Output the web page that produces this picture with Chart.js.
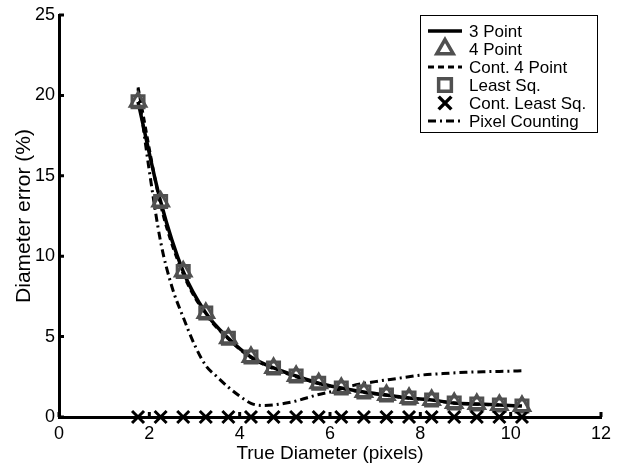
<!DOCTYPE html>
<html>
<head>
<meta charset="utf-8">
<script src="https://cdn.jsdelivr.net/npm/chart.js@4/dist/chart.umd.min.js"></script>
<style>
  body { margin: 0; background: #fff; }
</style>
</head>
<body>
<canvas id="myChart" width="626" height="465"></canvas>
<script>
// sample positions (true diameter, pixels)
var diam = [1.75, 2.25, 2.75, 3.25, 3.75, 4.25, 4.75, 5.25, 5.75, 6.25, 6.75, 7.25, 7.75, 8.25, 8.75, 9.25, 9.75, 10.25];
var threePt = [19.6, 13.4, 9.05, 6.47, 4.9, 3.73, 3.05, 2.55, 2.1, 1.8, 1.55, 1.37, 1.18, 1.06, 0.87, 0.81, 0.75, 0.68];
var fourPt = [19.6, 13.4, 9.05, 6.47, 4.9, 3.73, 3.05, 2.55, 2.1, 1.8, 1.55, 1.37, 1.18, 1.06, 0.87, 0.81, 0.75, 0.68];
var contFourPt = [20.5, 13.2, 8.9, 6.4, 4.85, 3.7, 3.0, 2.5, 2.08, 1.78, 1.53, 1.35, 1.17, 1.05, 0.86, 0.8, 0.74, 0.67];
var leastSq = [19.6, 13.4, 9.05, 6.47, 4.9, 3.73, 3.05, 2.55, 2.1, 1.8, 1.55, 1.37, 1.18, 1.06, 0.87, 0.81, 0.75, 0.68];
var contLeastSq = [0, 0, 0, 0, 0, 0, 0, 0, 0, 0, 0, 0, 0, 0, 0, 0, 0, 0];

var pixDiam = [1.75, 2, 2.25, 2.5, 2.75, 3, 3.25, 3.5, 3.75, 4, 4.25, 4.5, 4.75, 5, 5.25, 5.5, 5.75, 6, 6.5, 7, 7.5, 8, 8.5, 9, 9.5, 10, 10.25];
var pixCount = [20.4, 15.3, 10.9, 8.1, 6.2, 4.5, 3.2, 2.5, 1.85, 1.3, 0.85, 0.72, 0.75, 0.85, 1.0, 1.2, 1.4, 1.55, 1.95, 2.2, 2.4, 2.6, 2.7, 2.78, 2.82, 2.85, 2.87];

var xTicks = [0, 2, 4, 6, 8, 10, 12];
var yTicks = [0, 5, 10, 15, 20, 25];

var FONT = "'Liberation Sans', Arial, sans-serif";
var GRAY = '#505050';

function pts(xs, ys) {
    return xs.map(function (x, i) { return { x: x, y: ys[i] }; });
}

// inward tick marks, like the original figure
var inwardTicks = {
    id: 'inwardTicks',
    afterDraw: function (chart) {
        var ctx = chart.ctx, a = chart.chartArea;
        var xs = chart.scales.x, ys = chart.scales.y;
        ctx.save();
        ctx.strokeStyle = '#000';
        ctx.lineWidth = 3;
        ctx.beginPath();
        xTicks.forEach(function (v) {
            var px = xs.getPixelForValue(v);
            ctx.moveTo(px, a.bottom);
            ctx.lineTo(px, a.bottom - 5);
        });
        yTicks.forEach(function (v) {
            var py = ys.getPixelForValue(v);
            ctx.moveTo(a.left, py);
            ctx.lineTo(a.left + 5, py);
        });
        ctx.stroke();
        ctx.restore();
    }
};

// boxed legend in the top right corner
var boxLegend = {
    id: 'boxLegend',
    afterDraw: function (chart) {
        var ctx = chart.ctx;
        ctx.save();
        ctx.fillStyle = '#fff';
        ctx.fillRect(420, 15, 178, 118);
        ctx.strokeStyle = '#000';
        ctx.lineWidth = 1;
        ctx.strokeRect(420.5, 15.5, 177, 117);
        chart.data.datasets.forEach(function (ds, i) {
            var y = 31 + i * 18;
            ctx.setLineDash([]);
            if (ds.showLine !== false) {
                ctx.beginPath();
                ctx.setLineDash(ds.borderDash || []);
                ctx.lineWidth = ds.borderWidth;
                ctx.strokeStyle = ds.borderColor;
                ctx.moveTo(428, y);
                ctx.lineTo(462, y);
                ctx.stroke();
                ctx.setLineDash([]);
            } else {
                ctx.strokeStyle = ds.borderColor;
                ctx.fillStyle = 'rgba(0,0,0,0)';
                ctx.lineWidth = ds.borderWidth + 0.5;
                Chart.helpers.drawPoint(ctx, {
                    pointStyle: ds.pointStyle,
                    radius: ds.pointRadius + 0.5,
                    borderWidth: ds.borderWidth,
                    rotation: 0
                }, 445, y);
            }
            ctx.fillStyle = '#000';
            ctx.font = '17px ' + FONT;
            ctx.textBaseline = 'middle';
            ctx.textAlign = 'left';
            ctx.fillText(ds.label, 469, y + 1);
        });
        ctx.restore();
    }
};

function createChart() {
    var ctx = document.getElementById('myChart').getContext('2d');
    return new Chart(ctx, {
        type: 'line',
        data: {
            datasets: [
                {
                    label: '3 Point',
                    data: pts(diam, threePt),
                    borderColor: '#000',
                    borderWidth: 3.5,
                    pointRadius: 0,
                    cubicInterpolationMode: 'monotone',
                    order: 3
                },
                {
                    label: '4 Point',
                    data: pts(diam, fourPt),
                    showLine: false,
                    pointStyle: 'triangle',
                    pointRadius: 9,
                    borderColor: GRAY,
                    backgroundColor: 'rgba(0,0,0,0)',
                    borderWidth: 3,
                    order: 0
                },
                {
                    label: 'Cont. 4 Point',
                    data: pts(diam, contFourPt),
                    borderColor: '#000',
                    borderWidth: 3,
                    borderDash: [6, 4],
                    pointRadius: 0,
                    cubicInterpolationMode: 'monotone',
                    order: 4
                },
                {
                    label: 'Least Sq.',
                    data: pts(diam, leastSq),
                    showLine: false,
                    pointStyle: 'rect',
                    pointRadius: 8.5,
                    borderColor: GRAY,
                    backgroundColor: 'rgba(0,0,0,0)',
                    borderWidth: 3,
                    order: 1
                },
                {
                    label: 'Cont. Least Sq.',
                    data: pts(diam, contLeastSq),
                    showLine: false,
                    pointStyle: 'crossRot',
                    pointRadius: 8.5,
                    borderColor: '#000',
                    backgroundColor: 'rgba(0,0,0,0)',
                    borderWidth: 3,
                    order: 0
                },
                {
                    label: 'Pixel Counting',
                    data: pts(pixDiam, pixCount),
                    borderColor: '#000',
                    borderWidth: 3,
                    borderDash: [8, 4, 2, 4],
                    pointRadius: 0,
                    cubicInterpolationMode: 'monotone',
                    order: 5
                }
            ]
        },
        options: {
            responsive: false,
            animation: false,
            clip: false,
            layout: { padding: { top: 15, right: 25, left: 0, bottom: 0 } },
            plugins: {
                legend: { display: false },
                tooltip: { enabled: false }
            },
            scales: {
                x: {
                    type: 'linear',
                    min: 0,
                    max: 12,
                    afterFit: function (s) { s.height = 48; },
                    afterBuildTicks: function (s) { s.ticks = xTicks.map(function (v) { return { value: v }; }); },
                    grid: { display: true, drawOnChartArea: false, drawTicks: false },
                    border: { display: true, color: '#000', width: 3 },
                    ticks: { color: '#000', padding: 6, font: { family: FONT, size: 18 } },
                    title: {
                        display: true,
                        text: 'True Diameter (pixels)',
                        color: '#000',
                        padding: { top: 0, bottom: 0 },
                        font: { family: FONT, size: 19 }
                    }
                },
                y: {
                    min: 0,
                    max: 25,
                    afterFit: function (s) { s.width = 59; },
                    afterBuildTicks: function (s) { s.ticks = yTicks.map(function (v) { return { value: v }; }); },
                    grid: { display: true, drawOnChartArea: false, drawTicks: false },
                    border: { display: true, color: '#000', width: 3 },
                    ticks: { color: '#000', padding: 4, font: { family: FONT, size: 18 } },
                    title: {
                        display: true,
                        text: 'Diameter error (%)',
                        color: '#000',
                        padding: { top: 12, bottom: 0 },
                        font: { family: FONT, size: 21 }
                    }
                }
            }
        },
        plugins: [inwardTicks, boxLegend]
    });
}

createChart();
</script>
</body>
</html>
